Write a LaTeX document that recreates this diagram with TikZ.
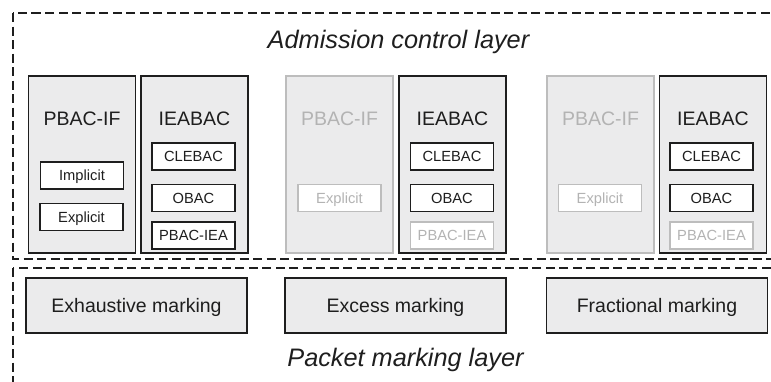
\documentclass[tikz,border=0pt]{standalone}
\usepackage{fontspec}
\setmainfont{Liberation Sans}
\definecolor{boxfill}{HTML}{EBEBEC}
\definecolor{fadeline}{HTML}{BDBDBD}
\definecolor{fadetext}{HTML}{B3B3B3}
\definecolor{darkline}{HTML}{1E1E1E}
\tikzset{
  capcentre/.style={text height=#1, text depth=0pt},
  outerbox/.style={draw=darkline, line width=1.5pt, fill=boxfill, minimum width=107pt, minimum height=177pt, inner sep=0pt},
  fadebox/.style={draw=fadeline, line width=1.5pt, fill=boxfill, minimum width=107pt, minimum height=177pt, inner sep=0pt},
  subbox/.style={draw=darkline, line width=1.5pt, fill=white, minimum width=83pt, minimum height=27pt, inner sep=0pt, font=\fontsize{14.7}{16}\selectfont, text=darkline, capcentre=10.6pt},
  fadesub/.style={draw=fadeline, line width=1.3pt, fill=white, minimum width=83pt, minimum height=27pt, inner sep=0pt, font=\fontsize{14.7}{16}\selectfont, text=fadetext, capcentre=10.6pt},
  title/.style={font=\fontsize{19.5}{22}\selectfont, text=darkline, inner sep=0pt, capcentre=14.1pt},
  fadetitle/.style={font=\fontsize{19.5}{22}\selectfont, text=fadetext, inner sep=0pt, capcentre=14.1pt},
  markbox/.style={draw=darkline, line width=1.5pt, fill=boxfill, minimum width=221pt, minimum height=55pt, inner sep=0pt, font=\fontsize{19.5}{22}\selectfont, text=darkline, capcentre=14.1pt},
  layerlabel/.style={font=\fontsize{25.3}{28}\selectfont\itshape, text=darkline, inner sep=0pt, anchor=base},
  frame/.style={draw=darkline, line width=2.8pt, dash pattern=on 9pt off 4.5pt}
}
\begin{document}
\begin{tikzpicture}[x=1pt,y=-1pt]
\useasboundingbox (0,0) rectangle (771,381);
\clip (0,0) rectangle (771,381);
\fill[white] (0,0) rectangle (771,381);
% frames
\draw[frame] (13,13) rectangle (800,259);
\draw[frame] (13,268) rectangle (800,420);
\node[layerlabel] (adm) at (398.5,48) {Admission control layer};
\node[layerlabel] (pkt) at (405.5,366) {Packet marking layer};
% group 1
\node[outerbox] (p1) at (82,164.5) {};
\node[outerbox] (i1) at (194.5,164.5) {};
\node[title] (p1t) at (82,118.5) {PBAC-IF};
\node[title] (i1t) at (194.5,118.5) {IEABAC};
\node[subbox] (imp1) at (82,175.5) {Implicit};
\node[subbox] (exp1) at (81.5,217) {Explicit};
\node[subbox] (cl1) at (193.5,156.5) {CLEBAC};
\node[subbox] (ob1) at (193.5,198) {OBAC};
\node[subbox] (pi1) at (193.5,235.5) {PBAC-IEA};
% group 2
\node[fadebox] (p2) at (339.5,164.5) {};
\node[outerbox] (i2) at (452.5,164.5) {};
\node[fadetitle] (p2t) at (339.5,118.5) {PBAC-IF};
\node[title] (i2t) at (452.5,118.5) {IEABAC};
\node[fadesub] (exp2) at (339.5,198) {Explicit};
\node[subbox] (cl2) at (452,156.5) {CLEBAC};
\node[subbox] (ob2) at (452,198) {OBAC};
\node[fadesub] (pi2) at (452,235.5) {PBAC-IEA};
% group 3
\node[fadebox] (p3) at (600.5,164.5) {};
\node[outerbox] (i3) at (713,164.5) {};
\node[fadetitle] (p3t) at (600.5,118.5) {PBAC-IF};
\node[title] (i3t) at (713,118.5) {IEABAC};
\node[fadesub] (exp3) at (600,198) {Explicit};
\node[subbox] (cl3) at (711.5,156.5) {CLEBAC};
\node[subbox] (ob3) at (711.5,198) {OBAC};
\node[fadesub] (pi3) at (711.5,235.5) {PBAC-IEA};
% marking boxes
\node[markbox] (m1) at (136.5,305.5) {Exhaustive marking};
\node[markbox] (m2) at (395.5,305.5) {Excess marking};
\node[markbox] (m3) at (657,305.5) {Fractional marking};
\end{tikzpicture}
\end{document}
